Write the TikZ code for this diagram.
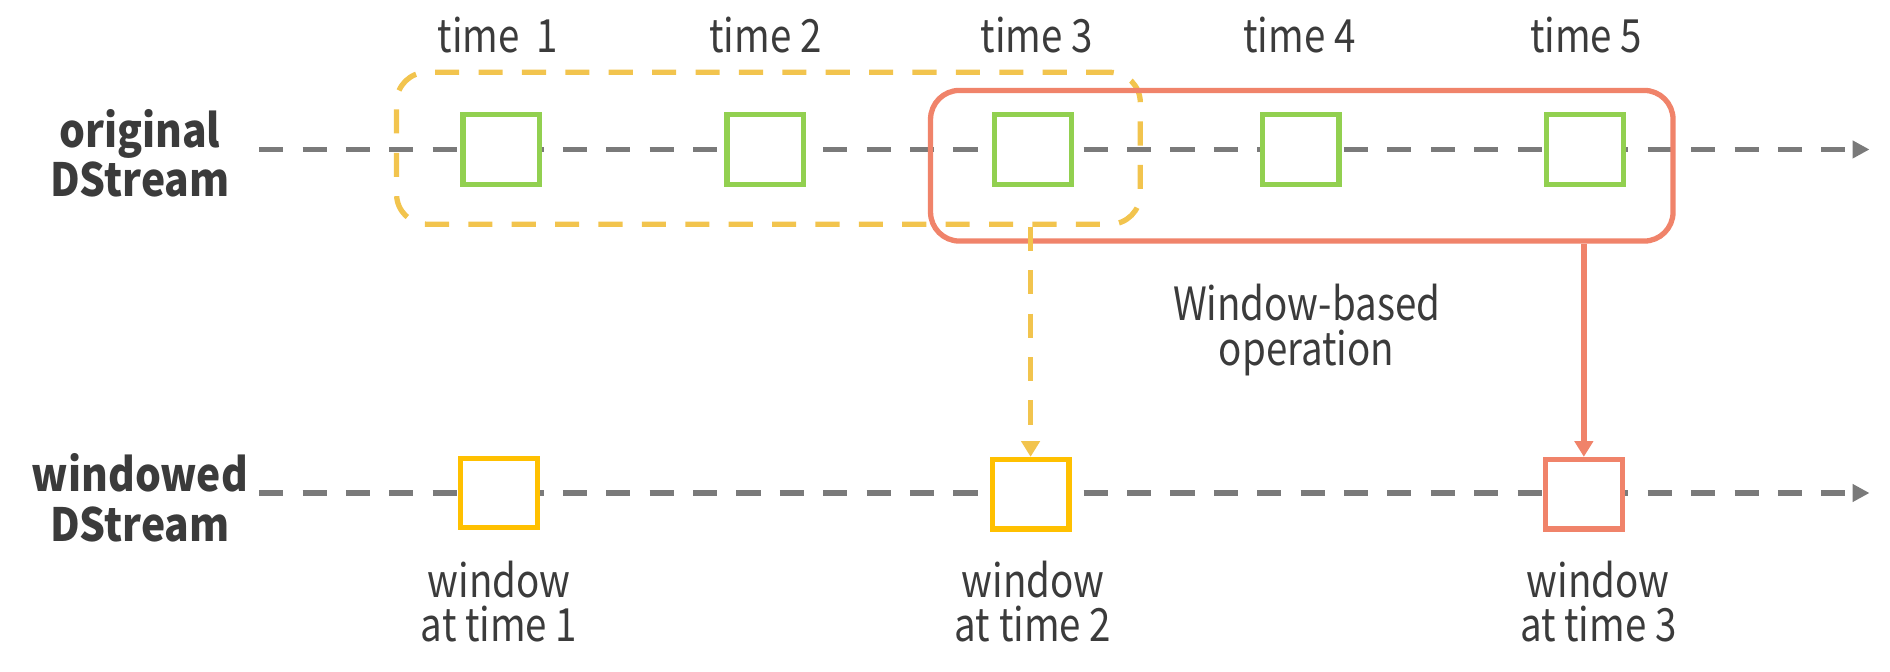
\documentclass[tikz,border=0pt]{standalone}
\usepackage{fontspec}
\setmainfont{Noto Sans CJK SC}
\newfontfamily\regf{Noto Sans CJK SC}[FakeStretch=0.84]
\newfontfamily\boldf{Noto Sans CJK SC}[FakeStretch=0.89]
\usetikzlibrary{arrows.meta}
\definecolor{txtc}{HTML}{3B3B3B}
\definecolor{greenc}{HTML}{92D050}
\definecolor{yelc}{HTML}{F2C44E}
\definecolor{yelsq}{HTML}{FFC000}
\definecolor{orc}{HTML}{F0836A}
\definecolor{grayc}{HTML}{7A7A7A}
\begin{document}
\begin{tikzpicture}[x=0.5pt,y=-0.5pt,
  txt/.style={text=txtc, font=\regf\fontsize{19}{18.5}\selectfont, align=center, inner sep=0pt},
  lbl/.style={text=txtc, font=\boldf\bfseries\fontsize{19}{20.5}\selectfont, align=center, inner sep=0pt},
  sqbox/.style={line width=2.2pt, minimum width=31.8pt, minimum height=28.8pt, inner sep=0pt, fill=white},
  gsq/.style={sqbox, draw=greenc},
  ysq/.style={sqbox, draw=yelsq},
  osq/.style={sqbox, draw=orc},
  streamline/.style={draw=grayc, line width=2.1pt, dash pattern=on 10pt off 8pt,
    -{Triangle[length=7pt,width=7pt]}},
  ywinbox/.style={draw=yelc, line width=2.2pt, dash pattern=on 10pt off 8pt, rounded corners=12.5pt, inner sep=0pt},
  owinbox/.style={draw=orc, line width=2.2pt, rounded corners=12pt, inner sep=0pt},
  yarrow/.style={draw=yelc, line width=2.2pt, dash pattern=on 10pt off 8pt,
    -{Triangle[length=6.5pt,width=7.5pt]}},
  oarrow/.style={draw=orc, line width=2.2pt, -{Triangle[length=6.5pt,width=7.5pt]}}
]
\useasboundingbox (0,0) rectangle (1568,557);

% stream lines
\coordinate (ts) at (215,124);
\coordinate (te) at (1551,124);
\coordinate (bs) at (215,409);
\coordinate (be) at (1551,409);
\draw[streamline] (ts) -- (te);
\draw[streamline] (bs) -- (be);

% windows
\node[ywinbox, minimum width=308.5pt, minimum height=63pt] (ywin) at (637.5,123) {};
\node[owinbox, minimum width=308pt, minimum height=62.5pt] (owin) at (1080,137.5) {};

% original squares
\node[gsq] (g1) at (416,124) {};
\node[gsq] (g2) at (635,124) {};
\node[gsq] (g3) at (857,124) {};
\node[gsq] (g4) at (1079,124) {};
\node[gsq] (g5) at (1315,124) {};

% windowed squares
\node[ysq] (w1) at (414,409) {};
\node[ysq] (w2) at (855,410) {};
\node[osq] (w3) at (1314,410) {};

% arrows
\draw[yarrow] (ywin.south -| w2.north) -- (w2.north);
\draw[oarrow] (owin.south -| w3.north) -- (w3.north);

% time labels
\node[txt] (t1) at (413,29) {time~~1};
\node[txt] (t2) at (635,29) {time 2};
\node[txt] (t3) at (860,29) {time 3};
\node[txt] (t4) at (1078,29) {time 4};
\node[txt] (t5) at (1316,29) {time 5};

% row labels
\node[lbl] (orig) at (116,127) {original\\DStream};
\node[lbl] (wind) at (116,413) {windowed\\DStream};

% window labels
\node[txt] (l1) at (414,499) {window\\at time 1};
\node[txt] (l2) at (857,499) {window\\at time 2};
\node[txt] (l3) at (1326,499) {window\\at time 3};

\node[txt] (op) at (1084,274) {Window-based\\operation};
\end{tikzpicture}
\end{document}
